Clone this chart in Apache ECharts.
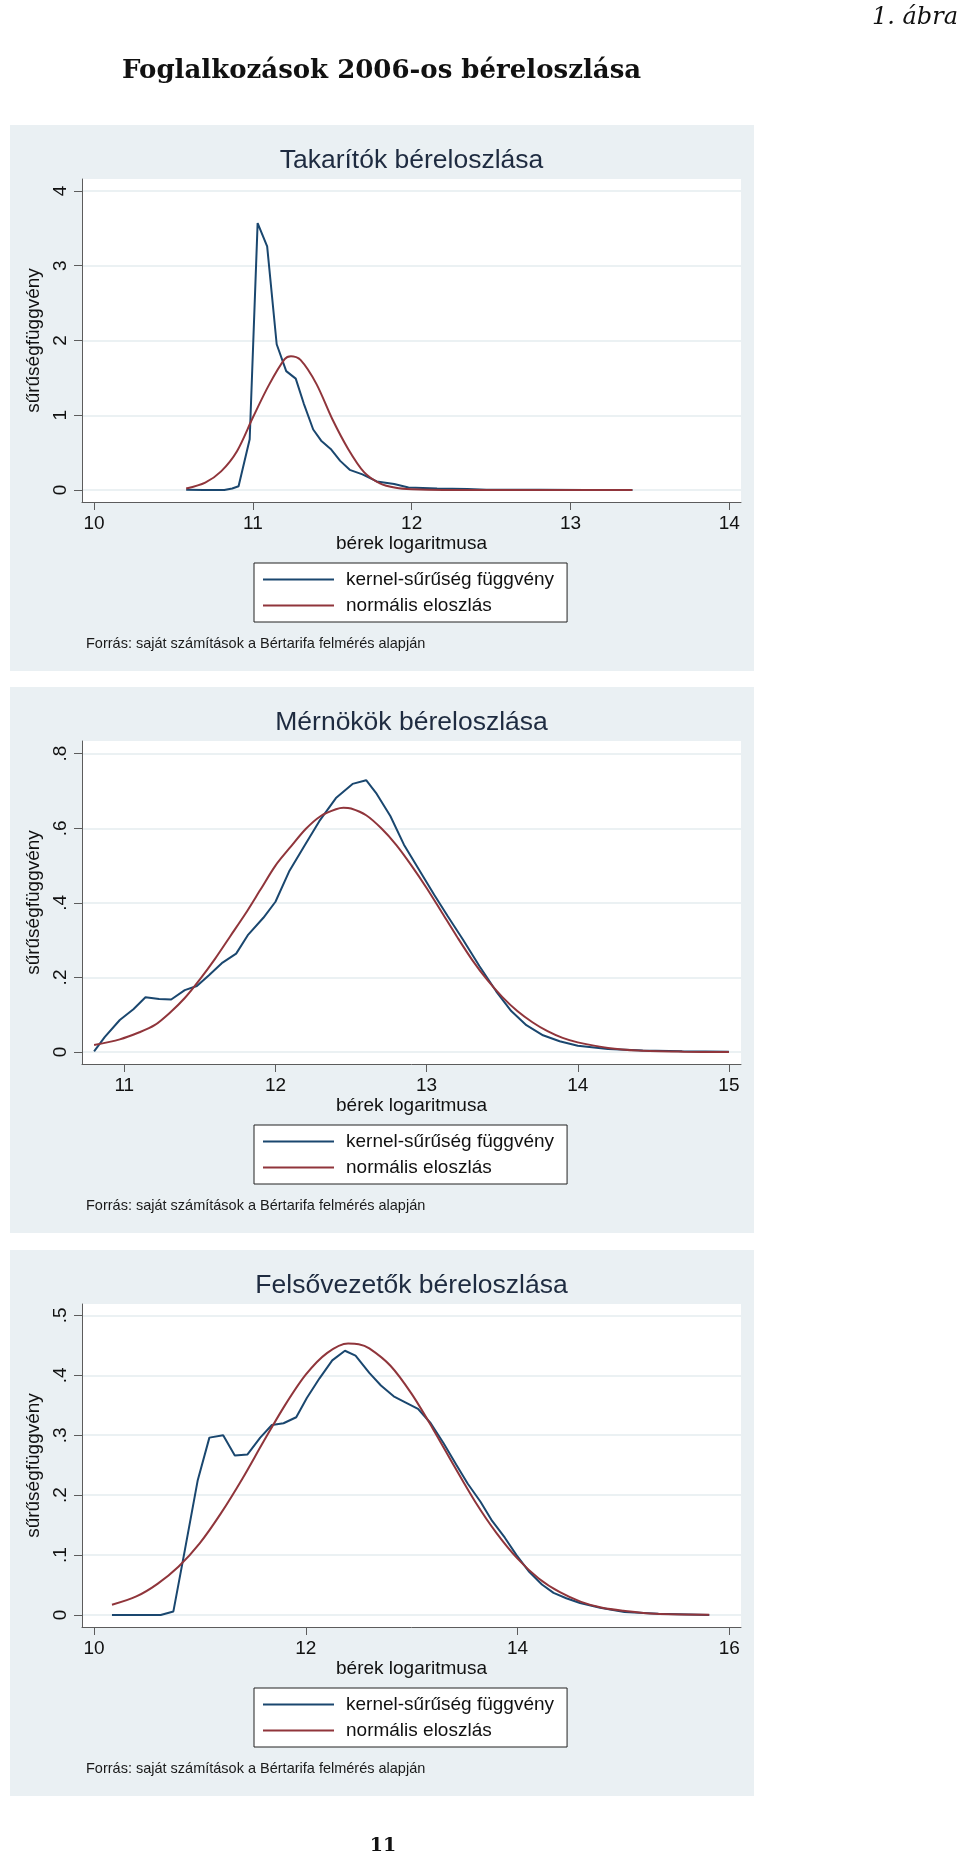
<!DOCTYPE html>
<html>
<head>
<meta charset="utf-8">
<script src="https://cdn.jsdelivr.net/npm/echarts@6/dist/echarts.min.js"></script>
<style>
html,body{margin:0;padding:0;background:#fff;}
#c{width:960px;height:1859px;}
</style>
</head>
<body>
<div id="c"></div>
<script>
// ---------- data ----------
const seriesNames = ['kernel-sűrűség függvény', 'normális eloszlás'];
const panelTitles = ['Takarítók béreloszlása', 'Mérnökök béreloszlása', 'Felsővezetők béreloszlása'];
const xAxisTitle = 'bérek logaritmusa';
const yAxisTitle = 'sűrűségfüggvény';
const sourceText = 'Forrás: saját számítások a Bértarifa felmérés alapján';

// Takarítók
const cleanXTicks = [10, 11, 12, 13, 14];
const cleanYTicks = [0, 1, 2, 3, 4];
const cleanKernelX = [10.58,10.69,10.82,10.87,10.91,10.98,11.03,11.09,11.15,11.21,11.27,11.32,11.38,11.43,11.49,11.55,11.61,11.69,11.78,11.89,11.98,12.16,12.35,12.47,12.8,13.1,13.39];
const cleanKernelY = [0.005,0.0,0.0,0.02,0.05,0.68,3.57,3.26,1.95,1.59,1.49,1.16,0.81,0.66,0.55,0.39,0.27,0.21,0.115,0.08,0.035,0.02,0.015,0.005,0.003,0.002,0.002];
const cleanNormalX = [10.58,10.7,10.8,10.9,11.0,11.1,11.2,11.24,11.3,11.4,11.5,11.6,11.7,11.8,11.9,12.0,12.2,12.6,13.0,13.39];
const cleanNormalY = [0.02,0.1,0.25,0.52,0.97,1.40,1.75,1.79,1.74,1.42,0.95,0.55,0.24,0.09,0.03,0.01,0.0,0.0,0.0,0.0];

// Mérnökök
const engXTicks = [11, 12, 13, 14, 15];
const engYTicks = [0, 0.2, 0.4, 0.6, 0.8];
const engKernelX = [10.80,10.87,10.97,11.06,11.14,11.23,11.31,11.40,11.48,11.56,11.65,11.74,11.82,11.92,12.0,12.09,12.19,12.29,12.40,12.51,12.60,12.67,12.76,12.85,12.95,13.05,13.14,13.24,13.35,13.46,13.56,13.66,13.77,13.88,14.0,14.2,14.43,14.69,15.0];
const engKernelY = [0.002,0.04,0.086,0.115,0.147,0.142,0.141,0.166,0.177,0.206,0.24,0.264,0.315,0.36,0.403,0.484,0.552,0.619,0.681,0.719,0.729,0.692,0.633,0.556,0.489,0.422,0.364,0.302,0.23,0.163,0.11,0.072,0.045,0.029,0.017,0.008,0.004,0.002,0.001];
const engNormalX = [10.8,10.97,11.1,11.2,11.3,11.4,11.5,11.6,11.7,11.8,11.9,12.0,12.1,12.2,12.3,12.4,12.45,12.5,12.6,12.7,12.8,12.9,13.0,13.1,13.2,13.3,13.4,13.5,13.6,13.7,13.8,13.9,14.0,14.2,14.4,14.7,15.0];
const engNormalY = [0.019,0.034,0.053,0.072,0.105,0.145,0.195,0.25,0.31,0.37,0.435,0.50,0.55,0.598,0.633,0.651,0.655,0.653,0.635,0.60,0.555,0.50,0.44,0.375,0.31,0.248,0.194,0.148,0.11,0.08,0.056,0.038,0.026,0.011,0.004,0.001,0.0];

// Felsővezetők
const mgrXTicks = [10, 12, 14, 16];
const mgrYTicks = [0, 0.1, 0.2, 0.3, 0.4, 0.5];
const mgrKernelX = [10.17,10.40,10.63,10.75,10.86,10.98,11.09,11.22,11.33,11.45,11.57,11.68,11.79,11.91,12.01,12.13,12.25,12.37,12.47,12.60,12.71,12.83,12.94,13.06,13.18,13.30,13.42,13.53,13.65,13.76,13.88,13.99,14.11,14.23,14.34,14.46,14.59,14.78,15.01,15.33,15.81];
const mgrKernelY = [0,0,0,0.006,0.11,0.225,0.296,0.30,0.266,0.268,0.296,0.317,0.32,0.33,0.362,0.395,0.425,0.441,0.433,0.404,0.383,0.365,0.355,0.344,0.32,0.287,0.251,0.219,0.189,0.157,0.129,0.1,0.072,0.051,0.037,0.028,0.02,0.012,0.005,0.002,0.0];
const mgrNormalX = [10.17,10.4,10.6,10.8,11.0,11.2,11.4,11.6,11.8,12.0,12.2,12.4,12.5,12.6,12.8,13.0,13.2,13.4,13.6,13.8,14.0,14.2,14.4,14.6,14.8,15.0,15.3,15.81];
const mgrNormalY = [0.017,0.031,0.052,0.081,0.12,0.17,0.227,0.289,0.349,0.401,0.437,0.453,0.452,0.445,0.416,0.369,0.311,0.249,0.189,0.137,0.094,0.061,0.038,0.022,0.012,0.007,0.002,0.0005];

// ---------- layout ----------
const panelTops = [126, 688, 1251];
const axisRanges = [
  {xMin: 9.924, xMax: 14.074, yMin: -0.16, yMax: 4.16},
  {xMin: 10.72, xMax: 15.08, yMin: -0.032, yMax: 0.834},
  {xMin: 9.887, xMax: 16.11, yMin: -0.02, yMax: 0.519}
];
const xTicks = [cleanXTicks, engXTicks, mgrXTicks];
const yTicks = [cleanYTicks, engYTicks, mgrYTicks];
const kernels = [[cleanKernelX, cleanKernelY], [engKernelX, engKernelY], [mgrKernelX, mgrKernelY]];
const normals = [[cleanNormalX, cleanNormalY], [engNormalX, engNormalY], [mgrNormalX, mgrNormalY]];

const SANS = "'Liberation Sans', Arial, Helvetica, sans-serif";
const NAVY = '#1a476f';
const MAROON = '#90353b';
const AXIS = '#5c5c5c';
const zip = (xs, ys) => xs.map((x, i) => [x, ys[i]]);
const fmtY = v => (Math.abs(v) < 1e-9 ? '0' : (Math.round(v * 10) / 10).toString().replace(/^0\./, '.'));

const grids = [], xAxes = [], yAxes = [], series = [], legends = [], graphics = [];

graphics.push({type: 'text', x: 958, y: 18, style: {text: '1. ábra', font: "italic 24px 'DejaVu Serif', serif", fill: '#111', align: 'right', textAlign: 'right', verticalAlign: 'middle', textVerticalAlign: 'middle'}});
graphics.push({type: 'text', x: 122, y: 71, style: {text: 'Foglalkozások 2006-os béreloszlása', font: "bold 26px 'DejaVu Serif', serif", fill: '#111', align: 'left', textAlign: 'left', verticalAlign: 'middle', textVerticalAlign: 'middle'}});
graphics.push({type: 'text', x: 383, y: 1846, style: {text: '11', font: "bold 19px 'DejaVu Serif', serif", fill: '#111', align: 'center', textAlign: 'center', verticalAlign: 'middle', textVerticalAlign: 'middle'}});

panelTops.forEach((T, i) => {
  const r = axisRanges[i];
  graphics.push({type: 'rect', z: -100, shape: {x: 10, y: T - 1, width: 744, height: 546}, style: {fill: '#eaf0f3'}});
  graphics.push({type: 'text', x: 411.5, y: T + 35, style: {text: panelTitles[i], font: '26.5px ' + SANS, fill: '#1e2b40', align: 'center', textAlign: 'center', verticalAlign: 'middle', textVerticalAlign: 'middle'}});
  graphics.push({type: 'text', x: 86, y: T + 518, style: {text: sourceText, font: '14.5px ' + SANS, fill: '#1a1a1a', align: 'left', textAlign: 'left', verticalAlign: 'middle', textVerticalAlign: 'middle'}});

  grids.push({left: 82, width: 659, top: T + 53, height: 323, show: true, backgroundColor: '#ffffff', borderWidth: 0, containLabel: false});

  xAxes.push({
    type: 'value', gridIndex: i, min: r.xMin, max: r.xMax,
    name: xAxisTitle, nameLocation: 'middle', nameGap: 29,
    nameTextStyle: {fontFamily: SANS, fontSize: 19, color: '#111'},
    axisLine: {show: true, onZero: false, lineStyle: {color: AXIS, width: 1}},
    axisTick: {show: true, length: 8, customValues: xTicks[i], lineStyle: {color: AXIS, width: 1}},
    axisLabel: {customValues: xTicks[i], margin: 12, fontFamily: SANS, fontSize: 19, color: '#111', formatter: v => String(Math.round(v))},
    splitLine: {show: false}
  });
  yAxes.push({
    type: 'value', gridIndex: i, min: r.yMin, max: r.yMax,
    name: yAxisTitle, nameLocation: 'middle', nameGap: 23, nameRotate: 90,
    nameTextStyle: {fontFamily: SANS, fontSize: 19, color: '#111'},
    axisLine: {show: true, onZero: false, lineStyle: {color: AXIS, width: 1}},
    axisTick: {show: true, length: 8, customValues: yTicks[i], lineStyle: {color: AXIS, width: 1}},
    axisLabel: {customValues: yTicks[i], rotate: 90, margin: 12, fontFamily: SANS, fontSize: 19, color: '#111', formatter: fmtY},
    splitLine: {show: true, lineStyle: {color: '#e5ecef', width: 1.5}}
  });
  series.push({
    name: seriesNames[0], type: 'line', xAxisIndex: i, yAxisIndex: i,
    data: zip(kernels[i][0], kernels[i][1]), showSymbol: false, symbol: 'none', smooth: false,
    lineStyle: {color: NAVY, width: 2}, itemStyle: {color: NAVY}, animation: false
  });
  series.push({
    name: seriesNames[1], type: 'line', xAxisIndex: i, yAxisIndex: i,
    data: zip(normals[i][0], normals[i][1]), showSymbol: false, symbol: 'none', smooth: 0.3,
    lineStyle: {color: MAROON, width: 2}, itemStyle: {color: MAROON}, animation: false
  });
  legends.push({
    orient: 'vertical', left: 254, top: T + 437, data: seriesNames, selectedMode: false,
    icon: 'rect', itemWidth: 71, itemHeight: 2, itemGap: 7,
    backgroundColor: '#ffffff', borderColor: '#222', borderWidth: 1, borderRadius: 0,
    padding: [7, 13, 7, 9],
    textStyle: {fontFamily: SANS, fontSize: 19, color: '#111', padding: [0, 0, 0, 7]}
  });
});

const chart = echarts.init(document.getElementById('c'), null, {renderer: 'canvas'});
chart.setOption({
  animation: false,
  backgroundColor: '#ffffff',
  graphic: graphics,
  grid: grids,
  xAxis: xAxes,
  yAxis: yAxes,
  legend: legends,
  series: series
});
</script>
</body>
</html>
